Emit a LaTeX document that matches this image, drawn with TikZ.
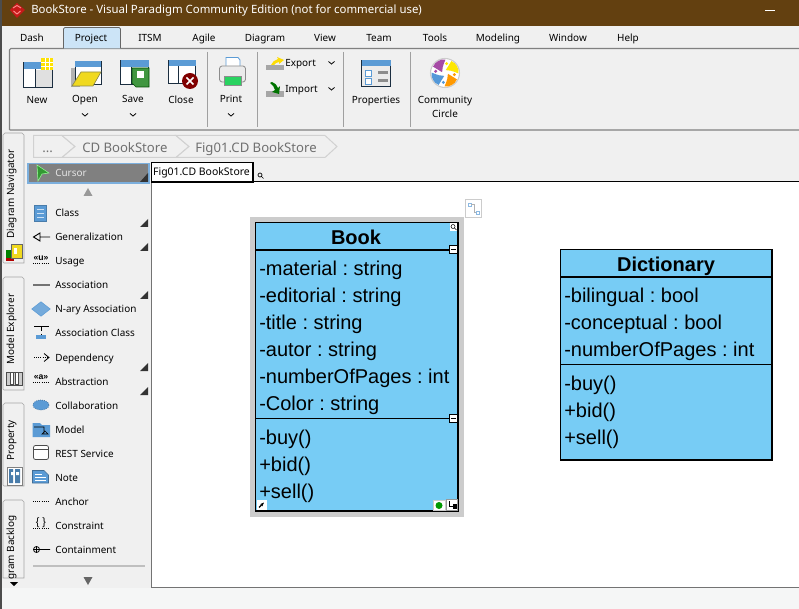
\documentclass[tikz,border=0pt]{standalone}
\usepackage{fontspec}
\setmainfont{Liberation Sans}
\newfontfamily\uifont{Noto Sans}
\usetikzlibrary{shapes.geometric,arrows.meta}
\definecolor{brownbar}{HTML}{634010}
\definecolor{chrome}{HTML}{F0F0F0}
\definecolor{umlblue}{HTML}{77CCF5}
\definecolor{iconblue}{HTML}{5B9BD5}
\definecolor{sepgray}{HTML}{A0A0A0}
\definecolor{crumb}{HTML}{707070}
\definecolor{tabblue}{HTML}{CCE4F7}
\definecolor{bottomstrip}{HTML}{F5F6F6}
\tikzset{
  x=0.75pt,y=-0.75pt,
  ui/.style={font=\uifont\fontsize{7.45}{10}\selectfont,text=black,inner sep=0pt,text height=6pt,text depth=1.5pt,yshift=-0.75pt},
  pal/.style={ui,anchor=west},
  member/.style={font=\fontsize{15}{18}\selectfont,anchor=west,inner sep=0pt,text=black,text height=11pt,text depth=3pt,yshift=-1.6pt},
  ctitle/.style={font=\bfseries\fontsize{15}{18}\selectfont,inner sep=0pt,text=black,text height=11pt,text depth=3pt,yshift=-1.5pt},
  umlbox/.style={fill=umlblue,draw=black,line width=1.3pt},
  umlline/.style={draw=black,line width=1.1pt},
  sep/.style={draw=sepgray,line width=0.75pt},
  crumbtext/.style={font=\uifont\fontsize{9.85}{12}\selectfont,text=crumb,inner sep=0pt,anchor=west,text height=8pt,text depth=2pt},
  crumbshape/.style={draw=black!18,fill=chrome,line width=0.75pt},
  vtab/.style={draw=black!35,fill=chrome,line width=0.5pt},
  vtext/.style={ui,rotate=90},
  corner/.style={fill=black!80,draw=none},
  chev/.style={draw=black,line width=0.6pt},
  win/.style={draw=black!70!iconblue,fill=white,line width=0.6pt},
  winhead/.style={fill=iconblue,draw=none},
  handle/.style={draw=black!60,fill=white,line width=0.5pt},
}
\begin{document}
\begin{tikzpicture}
\frenchspacing
\useasboundingbox (0,0) rectangle (799,609);
\fill[chrome] (0,0) rectangle (799,609);
% title bar
\fill[brownbar] (0,0) rectangle (799,26);
\fill[black!70] (0,0) rectangle (1.5,609);
\fill[red!75!black!90] (17,3) -- (25,10) -- (17,18) -- (10,10) -- cycle;
\draw[white!55!red,line width=0.7pt] (13,8) -- (17,5.5) -- (21,8) (13.5,11) -- (17,14) -- (20.5,11);
\node[font=\uifont\fontsize{8.55}{11}\selectfont,text=white,anchor=west,inner sep=0pt] (title) at (31,11) {BookStore - Visual Paradigm Community Edition (not for commercial use)};
\draw[white,line width=0.8pt] (765,10.5) -- (775,10.5);
% ribbon
\draw[draw=black!50,line width=0.8pt,rounded corners=1pt] (9.5,130) -- (9.5,48.5) -- (799,48.5) (9.5,130) -- (799,130);
\draw[draw=black!60,fill=tabblue,line width=0.6pt,rounded corners=1pt] (63.5,48.5) -- (63.5,27.5) -- (120.5,27.5) -- (120.5,48.5);
\foreach \nm/\tx/\px in {tDash/Dash/32,tProject/Project/91,tITSM/ITSM/150,tAgile/Agile/204,tDiagram/Diagram/265,tView/View/325,tTeam/Team/379,tTools/Tools/435,tModeling/Modeling/498,tWindow/Window/568,tHelp/Help/628}
  \node[ui] (\nm) at (\px,38) {\tx};
\foreach \px in {207,257,343,410} \draw[sep] (\px,52) -- (\px,127);
% New
\draw[win] (23.5,62.5) rectangle (52.5,87.5);
\fill[winhead] (23.5,62.5) rectangle (52.5,69);
\fill[black!12] (35,70) rectangle (52,87);
\draw[black!70!iconblue,line width=0.6pt] (35,69) -- (35,87);
\fill[yellow!85!orange] (41,58) rectangle (53,70);
\draw[white,line width=0.5pt] (45,58) -- (45,70) (49,58) -- (49,70) (41,62) -- (53,62) (41,66) -- (53,66);
% Open
\fill[black!30] (71,68) rectangle (80,87);
\draw[win] (75,61) rectangle (101,84);
\fill[winhead] (75,61) rectangle (101,67);
\draw[fill=yellow!75!brown,draw=black!50!yellow,line width=0.5pt] (81,72) -- (101,72) -- (93,86) -- (72,86) -- cycle;
% Save
\draw[win] (120.5,60.5) rectangle (148.5,84);
\fill[winhead] (120.5,60.5) rectangle (148.5,67);
\draw[black!70!iconblue,line width=0.6pt] (131,67) -- (131,84);
\draw[fill=green!45!black!75,draw=green!30!black,line width=0.5pt] (132,68) -- (149,68) -- (149,87) -- (136,87) -- (132,83) -- cycle;
\fill[white] (137,71) rectangle (144,78);
% Close
\draw[win] (168.5,60.5) rectangle (195.5,83.5);
\fill[winhead] (168.5,60.5) rectangle (195.5,66);
\draw[black!70!iconblue,line width=0.6pt] (178,66) -- (178,83.5);
\fill[red!50!black] (190,81) circle[radius=8];
\draw[white,line width=1.1pt] (186.5,77.5) -- (193.5,84.5) (193.5,77.5) -- (186.5,84.5);
% Print
\draw[fill=white,draw=iconblue,line width=0.6pt] (226,57.5) -- (238,57.5) -- (240,60) -- (240,72) -- (226,72) -- cycle;
\draw[fill=black!8,draw=black!45,line width=0.6pt,rounded corners=2pt] (219.5,66) rectangle (245.5,82);
\fill[white] (224,82) rectangle (241,86);
\draw[fill=green!55!iconblue,draw=black!45,line width=0.4pt] (224,76) rectangle (241,85);
% Labels below the big icons
\node[ui] (lNew) at (37,100) {New};
\node[ui] (lOpen) at (85,99) {Open};
\node[ui] (lSave) at (133,99) {Save};
\node[ui] (lClose) at (181,100) {Close};
\node[ui] (lPrint) at (231,99) {Print};
\foreach \px in {85,133,231} \draw[chev] (\px-3,113.5) -- (\px,116) -- (\px+3,113.5);
% Export / Import
\fill[black!35] (266,65) rectangle (284,70);
\fill[yellow!80!orange] (271,65) to[bend left=25] (278,59) -- (277,57) -- (284,60) -- (279,64) -- (279,62) to[bend right=20] (274,65) -- cycle;
\node[ui,anchor=west] (lExport) at (285,63) {Export};
\draw[chev] (328.5,61.5) -- (331.5,64) -- (334.5,61.5);
\fill[black!35] (266,91) rectangle (284,97);
\fill[green!45!black] (272,82) to[bend left=25] (278,88) -- (280,86) -- (279,94) -- (272,92) -- (275,90) to[bend right=20] (270,83) -- cycle;
\node[ui,anchor=west] (lImport) at (285,89) {Import};
\draw[chev] (328.5,87.5) -- (331.5,90) -- (334.5,87.5);
% Properties
\draw[win,fill=black!8] (361.5,60) rectangle (390.5,86);
\fill[winhead] (361.5,60) rectangle (390.5,66);
\foreach \py in {71,79} {
  \draw[iconblue,fill=white,line width=0.5pt] (365,\py-1) rectangle (371,\py+5);
  \fill[black!45] (378,\py) rectangle (388,\py+3);
}
\node[ui] (lProp) at (376,100) {Properties};
% Community
\fill[white] (445,73) circle[radius=14.5];
\draw[black!20,line width=0.8pt] (445,73) circle[radius=14.5];
\foreach \col/\a in {violet!70!white/180,yellow!90!orange/270,orange!80!yellow/0,cyan!60!blue!70/90} {
  \begin{scope}[shift={(445,73)}]
    \fill[\col] (\a+28:13.5) -- (\a+45:13.8) -- (\a+60:13.8) -- (\a+75:13.8) -- (\a+92:13.5)
      .. controls (\a+70:7) and (\a+55:5) .. (\a+15:3) -- cycle;
    \fill[\col] (\a+10:9.5) circle[radius=1.7];
  \end{scope}
}
\node[ui] (lComm) at (445,100) {Community};
\node[ui] (lCircle) at (445,114) {Circle};
% breadcrumb
\draw[crumbshape] (33.5,135.5) -- (62,135.5) -- (75,146.5) -- (62,157.5) -- (33.5,157.5) -- cycle;
\draw[crumbshape] (62,135.5) -- (176,135.5) -- (189,146.5) -- (176,157.5) -- (62,157.5) -- (75,146.5) -- cycle;
\draw[crumbshape] (176,135.5) -- (325,135.5) -- (337,146.5) -- (325,157.5) -- (176,157.5) -- (189,146.5) -- cycle;
\node[crumbtext] (c0) at (42,148.7) {...};
\node[crumbtext] (c1) at (82,148.7) {CD BookStore};
\node[crumbtext] (c2) at (195,148.7) {Fig01.CD BookStore};
% left vertical tabs
\draw[vtab] (24,263) -- (4,263) -- (3,262) -- (3,135) -- (5,133) -- (22,133) -- (24,135) -- cycle;
\draw[vtab] (24,390) -- (4,390) -- (3,389) -- (3,279) -- (5,277) -- (22,277) -- (24,279) -- cycle;
\draw[vtab] (24,486) -- (4,486) -- (3,485) -- (3,405) -- (5,403) -- (22,403) -- (24,405) -- cycle;
\draw[vtab] (24,578) -- (3,578) -- (3,502) -- (5,500) -- (22,500) -- (24,502) -- cycle;
\node[vtext] (vNav) at (11,193) {Diagram Navigator};
\node[vtext] (vExp) at (11,328) {Model Explorer};
\node[vtext] (vPro) at (11,439.5) {Property};
\node[vtext] (vBack) at (11,546.5) {gram Backlog};
% tab icons
\fill[red!70!black] (6,254) rectangle (14,261);
\fill[green!50!black] (6,250) rectangle (16,258);
\draw[fill=yellow!75!brown,draw=black!60,line width=0.4pt] (11,244) rectangle (22,258);
\fill[white] (14,248) rectangle (17,254);
\draw[fill=black!20,draw=black!70,line width=0.6pt] (6,372) rectangle (22,385);
\draw[fill=white,draw=black!70,line width=0.5pt] (10,372) rectangle (13,384) (15,372) rectangle (18,384);
\draw[fill=white,draw=black!50,line width=0.4pt] (7,467) rectangle (22,485);
\fill[iconblue!80!black] (9,469) rectangle (13,483) (15,469) rectangle (20,483);
\fill[white] (11,472) rectangle (14,475) (16,472) rectangle (19,475);
\fill[black] (10,582) -- (18,582) -- (14,586) -- cycle;
% canvas
\fill[white] (152,182) rectangle (799,587);
\draw[black!55,line width=0.8pt] (151.5,182) -- (151.5,587.5) -- (799,587.5);
\fill[bottomstrip] (2,588) rectangle (799,609);
\draw[black,line width=1.1pt] (253,181.5) -- (799,181.5);
\draw[fill=white,draw=black,line width=0.8pt] (151.5,162.5) rectangle (253,182);
\node[font=\uifont\fontsize{7.85}{9}\selectfont,inner sep=0pt,text=black,text height=6pt,text depth=1.5pt] (ctab) at (201.5,172.7) {Fig01.CD BookStore};
\draw[black,line width=0.5pt] (260,175) circle[radius=2] (261.5,176.5) -- (263.5,178.5);
% palette
\draw[draw=iconblue!80!white,fill=black!50,line width=0.9pt] (28,163.5) rectangle (149,183);
\draw[fill=green!50!black!80,draw=green!40!white,line width=0.4pt] (37,165) -- (49,173) -- (42,174) -- (38,181) -- cycle;
\node[pal,text=white!90!black] (pCursor) at (55,173) {Cursor};
\fill[corner] (148,173) -- (148,182) -- (140,182) -- cycle;
\fill[black!40] (88,188) -- (92.5,196) -- (83.5,196) -- cycle;
\foreach \nm/\tx/\py in {pClass/Class/213,pGen/Generalization/237,pUsage/Usage/261,pAssoc/Association/285,pNary/N-ary Association/309,pAC/Association Class/333,pDep/Dependency/357,pAbs/Abstraction/381,pCol/Collaboration/405,pModel/Model/429,pRest/REST Service/453,pNote/Note/477,pAnchor/Anchor/501,pCons/Constraint/525,pCont/Containment/549}
  \node[pal] (\nm) at (55,\py) {\tx};
\foreach \py in {225,249,297,369,393} \fill[corner] (148,\py-6) -- (148,\py+2) -- (140,\py+2) -- cycle;
% palette icons
\draw[fill=iconblue,draw=iconblue!80!black,line width=0.5pt] (34.5,205) rectangle (46.5,221);
\draw[white!70!iconblue,line width=0.6pt] (37,209) -- (44,209) (37,213) -- (44,213) (37,217) -- (44,217);
\draw[black,line width=0.7pt] (50,237) -- (40,237) (40,233) -- (33.5,237) -- (40,241) -- cycle;
\node[font=\bfseries\fontsize{6.5}{7}\selectfont,inner sep=0pt] (iUsage) at (41,258) {«u»};
\draw[black,densely dotted,line width=0.6pt] (33,263) -- (49,263);
\draw[black!55,line width=1pt] (33,285) -- (50,285);
\node[diamond,fill=iconblue!85!white,draw=iconblue,line width=0.4pt,minimum width=14pt,minimum height=11pt,inner sep=0pt] (iNary) at (41,309) {};
\draw[black,line width=0.6pt] (34,326.5) -- (49,326.5);
\draw[black,densely dashed,line width=0.5pt] (41,327) -- (41,335);
\fill[iconblue] (36,335) rectangle (46,339);
\draw[black,densely dotted,line width=0.6pt] (34,357.5) -- (47,357.5);
\draw[black,line width=0.6pt] (44,353.5) -- (49,357.5) -- (44,361.5);
\node[font=\bfseries\fontsize{6.5}{7}\selectfont,inner sep=0pt] (iAbs) at (41,377) {«a»};
\draw[black,densely dotted,line width=0.6pt] (33,382) -- (49,382);
\draw[fill=iconblue,draw=iconblue!70!black,densely dotted,line width=0.5pt] (41,405) ellipse[x radius=8,y radius=5];
\fill[iconblue] (32.5,423) -- (40,423) -- (42,425) -- (50,425) -- (50,437) -- (32.5,437) -- cycle;
\draw[black,line width=0.5pt] (34,427) -- (44,427) -- (44,433) (42,434) -- (45,431) -- (48,434) -- cycle;
\draw[fill=white,draw=black!70,line width=0.6pt,rounded corners=1.5pt] (33.5,445.5) rectangle (48.5,459.5);
\draw[black!70,line width=0.5pt] (33.5,449.5) -- (48.5,449.5);
\draw[fill=iconblue,draw=iconblue!70!black,line width=0.4pt] (32.5,470.5) -- (44,470.5) -- (48.5,475) -- (48.5,483) -- (32.5,483) -- cycle;
\draw[white,line width=0.5pt] (35,474) -- (42,474) (35,477) -- (46,477) (35,480) -- (46,480);
\draw[black,densely dotted,line width=0.6pt] (33,501.5) -- (50,501.5);
\node[font=\fontsize{8}{9}\selectfont,inner sep=0pt] (iCons) at (41,522.5) {\{ \}};
\draw[black,densely dotted,line width=0.6pt] (33,528) -- (50,528);
\draw[black,line width=0.6pt] (36.5,549.5) circle[radius=3] (33.5,549.5) -- (50,549.5) (36.5,546.5) -- (36.5,552.5);
\draw[black!25,line width=1.5pt] (33,566) -- (145,566);
\fill[black!60] (83.5,577) -- (92.5,577) -- (88,585) -- cycle;
% Book class
\fill[black!20] (250,217) rectangle (464,517);
\path[umlbox] (255.5,222.5) rectangle (458,511);
\draw[umlline] (255.5,250) -- (458,250) (255.5,418.5) -- (458,418.5);
\node[ctitle] (bookT) at (356,237) {Book};
\foreach \nm/\tx/\py in {b1/-material : string/268.5,b2/-editorial : string/295.5,b3/-title : string/322.5,b4/-autor : string/349.5,b5/-numberOfPages : int/376.5,b6/-Color : string/403.5,b7/-buy()/437.5,b8/+bid()/464.5,b9/+sell()/491.5}
  \node[member] (\nm) at (259,\py) {\tx};
% Book handles
\fill[white] (450,223) rectangle (457,231);
\draw[black,line width=0.4pt] (453,226.5) circle[radius=2] (454.5,228) -- (456.5,230);
\foreach \py in {249.5,418.5} {
  \draw[fill=white,draw=black,line width=0.5pt] (449.5,\py-4) rectangle (457.5,\py+4);
  \draw[black,line width=0.6pt] (451,\py) -- (456,\py);
}
\fill[white] (256.5,500) rectangle (267,510);
\draw[black,line width=0.9pt,-{Stealth[length=3pt]}] (259,507.5) -- (264,502.5);
\draw[fill=white,draw=black!20,line width=0.4pt] (433.5,500) rectangle (445,510.5);
\fill[green!60!black] (439,505.5) circle[radius=3.5];
\draw[fill=white,draw=black!40,line width=0.4pt] (446,499.5) rectangle (457.5,510.5);
\draw[black,line width=0.6pt] (449,501) -- (449,506) -- (455,506);
\fill[black] (453,504) rectangle (456.5,509);
% relocate handle
\draw[draw=black!20,fill=white,line width=0.6pt] (465,199) rectangle (481,217);
\draw[iconblue!70!white,line width=0.5pt] (468,203) rectangle (471,206) (476,211) rectangle (479,214);
\draw[black!30,line width=0.5pt] (471,204.5) -- (474,204.5) -- (474,212.5) -- (476,212.5);
% Dictionary class
\path[umlbox,line width=1.1pt] (560.5,249.5) rectangle (772,460);
\draw[umlline,line width=0.9pt] (560.5,277) -- (772,277) (560.5,364.5) -- (772,364.5);
\node[ctitle] (dictT) at (666,264) {Dictionary};
\foreach \nm/\tx/\py in {d1/-bilingual : bool/295.5,d2/-conceptual : bool/322.5,d3/-numberOfPages : int/349.5,d4/-buy()/383.5,d5/+bid()/410.5,d6/+sell()/437.5}
  \node[member] (\nm) at (564,\py) {\tx};
\end{tikzpicture}
\end{document}
